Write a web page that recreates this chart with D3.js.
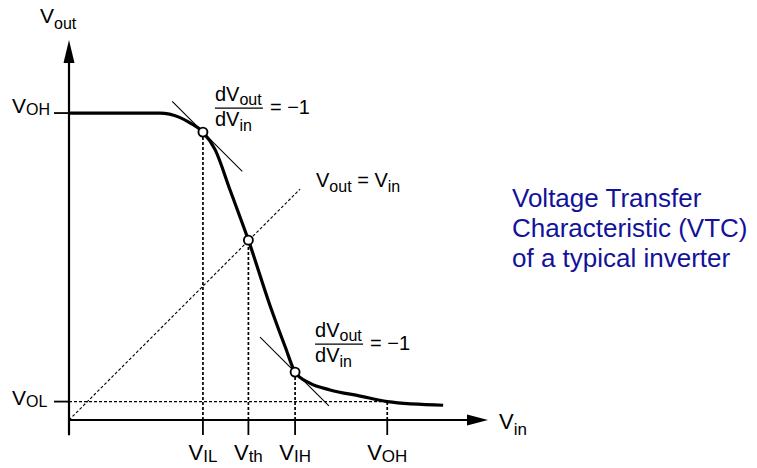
<!DOCTYPE html>
<html>
<head>
<meta charset="utf-8">
<script src="https://cdn.jsdelivr.net/npm/d3@7"></script>
<style>
  html, body { margin: 0; padding: 0; background: #fff; }
  svg { display: block; }
  text { font-family: "Liberation Sans", Arial, Helvetica, sans-serif; fill: #000; }
</style>
</head>
<body>
<svg id="chart" width="757" height="468"></svg>
<script>
// Inverter transfer curve: Vout (V) as a function of Vin (V)
const curveVin  = [0, 1.48, 1.80, 1.97, 2.18, 2.38, 2.62, 2.92, 3.27, 3.52, 3.68, 3.92, 4.25, 4.74, 5.18, 6.09];
const curveVout = [5.00, 5.00, 4.93, 4.84, 4.69, 4.40, 3.75, 2.93, 1.87, 1.19, 0.78, 0.60, 0.49, 0.39, 0.30, 0.24];

// Critical points marked on the curve: [Vin, Vout]
const pointNames = ["IL", "th", "IH"];
const pointVin   = [2.18, 2.92, 3.68];
const pointVout  = [4.69, 2.93, 0.78];

// Input-axis marks
const xTickLabels = ["IL", "th", "IH", "OH"];
const xTickValues = [2.18, 2.92, 3.68, 5.18];

// Output-axis marks
const yTickLabels = ["OH", "OL"];
const yTickValues = [5.00, 0.30];

// Unity-gain tangents (slope −1) at V_IL and V_IH, with their extent along Vin
const tangentAt   = [0, 2];          // indices into the critical points
const tangentFrom = [-0.50, -0.57];
const tangentTo   = [0.64, 0.55];

// Reference line Vout = Vin, drawn up to this input voltage
const unityLineEnd = 3.76;

const captionLines = ["Voltage Transfer", "Characteristic (VTC)", "of a typical inverter"];

const svg = d3.select("#chart");

const x = d3.scaleLinear().domain([0, 6.82]).range([69, 488]);
const y = d3.scaleLinear().domain([0, 6.19]).range([420, 40]);

const ink = "#000";

// ---- axes ----
const axes = svg.append("g");
axes.append("line")
  .attr("x1", x(0)).attr("y1", y(-0.25))
  .attr("x2", x(0)).attr("y2", y(5.9))
  .attr("stroke", ink).attr("stroke-width", 2.2);
axes.append("path")
  .attr("d", `M${x(0)},${y(6.19)} L${x(0) - 5.5},${y(6.19) + 23} L${x(0) + 5.5},${y(6.19) + 23} Z`)
  .attr("fill", ink);
axes.append("line")
  .attr("x1", x(0)).attr("y1", y(0))
  .attr("x2", x(6.5)).attr("y2", y(0))
  .attr("stroke", ink).attr("stroke-width", 2.2);
axes.append("path")
  .attr("d", `M${x(6.82)},${y(0)} L${x(6.82) - 21},${y(0) - 5.5} L${x(6.82) - 21},${y(0) + 5.5} Z`)
  .attr("fill", ink);

// subscripted label helper: V with a subscript
function vLabel(g, px, py, sub, anchor, size, subSize, subDy) {
  const t = g.append("text")
    .attr("x", px).attr("y", py)
    .attr("text-anchor", anchor)
    .attr("font-size", size);
  t.append("tspan").text("V");
  t.append("tspan").attr("dy", subDy).attr("font-size", subSize).text(sub);
  return t;
}

// axis titles
vLabel(svg, 40, 23, "out", "start", 21, 16, 6);
vLabel(svg, 499, 429, "in", "start", 22, 17, 6);

// ---- reference lines ----
const guides = svg.append("g").attr("fill", "none").attr("stroke", ink);

// Vout = Vin
guides.append("line")
  .attr("x1", x(0)).attr("y1", y(0))
  .attr("x2", x(unityLineEnd)).attr("y2", y(unityLineEnd))
  .attr("stroke-width", 1.1).attr("stroke-dasharray", "3,2");

// V_OL level across to where the curve reaches it
guides.append("line")
  .attr("x1", x(0)).attr("y1", y(yTickValues[1]))
  .attr("x2", x(xTickValues[3])).attr("y2", y(yTickValues[1]))
  .attr("stroke-width", 1.4).attr("stroke-dasharray", "3,2");

// drop lines from the critical points to the input axis
const dropTops = pointVout.concat([yTickValues[1]]);
xTickValues.forEach((v, i) => {
  guides.append("line")
    .attr("x1", x(v)).attr("y1", y(0))
    .attr("x2", x(v)).attr("y2", y(dropTops[i]))
    .attr("stroke-width", 1.7).attr("stroke-dasharray", "3,2");
});

// ---- ticks and tick labels ----
xTickValues.forEach((v, i) => {
  axes.append("line")
    .attr("x1", x(v)).attr("y1", y(0))
    .attr("x2", x(v)).attr("y2", y(0) + 15)
    .attr("stroke", ink).attr("stroke-width", 1.8);
  vLabel(svg, x(v), y(0) + 40, xTickLabels[i], "middle", 22, 17, 2);
});
yTickValues.forEach((v, i) => {
  axes.append("line")
    .attr("x1", x(0) - 15).attr("y1", y(v))
    .attr("x2", x(0)).attr("y2", y(v))
    .attr("stroke", ink).attr("stroke-width", 1.8);
  vLabel(svg, 12, y(v) + (i === 0 ? 0 : 3), yTickLabels[i], "start", 21, 16, 2);
});

// ---- tangents ----
tangentAt.forEach((pi, k) => {
  const vx = pointVin[pi], vy = pointVout[pi];
  svg.append("line")
    .attr("x1", x(vx + tangentFrom[k])).attr("y1", y(vy - tangentFrom[k]))
    .attr("x2", x(vx + tangentTo[k])).attr("y2", y(vy - tangentTo[k]))
    .attr("stroke", ink).attr("stroke-width", 1.1);
});

// ---- the transfer curve ----
const line = d3.line()
  .x(d => x(d[0])).y(d => y(d[1]))
  .curve(d3.curveMonotoneX);
svg.append("path")
  .datum(d3.zip(curveVin, curveVout))
  .attr("d", line)
  .attr("fill", "none")
  .attr("stroke", ink)
  .attr("stroke-width", 3.2)
  .attr("stroke-linejoin", "round");

// ---- critical points ----
svg.append("g").selectAll("circle")
  .data(d3.zip(pointVin, pointVout))
  .join("circle")
  .attr("cx", d => x(d[0])).attr("cy", d => y(d[1]))
  .attr("r", 4.5)
  .attr("fill", "#fff")
  .attr("stroke", ink)
  .attr("stroke-width", 1.9);

// ---- slope annotations dVout/dVin = −1 ----
function slopeNote(px, barY) {
  const g = svg.append("g");
  const num = g.append("text").attr("x", px).attr("y", barY - 7).attr("font-size", 20);
  num.append("tspan").text("dV");
  num.append("tspan").attr("dy", 4).attr("font-size", 16).text("out");
  const den = g.append("text").attr("x", px).attr("y", barY + 18).attr("font-size", 20);
  den.append("tspan").text("dV");
  den.append("tspan").attr("dy", 5).attr("font-size", 16).text("in");
  g.append("line")
    .attr("x1", px).attr("y1", barY).attr("x2", px + 48).attr("y2", barY)
    .attr("stroke", ink).attr("stroke-width", 1.2);
  g.append("text").attr("x", px + 55).attr("y", barY + 6).attr("font-size", 20).text("= \u22121");
}
slopeNote(x(pointVin[0]) + 12, y(pointVout[0]) - 24);
slopeNote(x(pointVin[2]) + 20, y(pointVout[2]) - 28);

// Vout = Vin tag
const eq = svg.append("text").attr("x", 316).attr("y", 187).attr("font-size", 20);
eq.append("tspan").text("V");
eq.append("tspan").attr("dy", 5).attr("font-size", 16).text("out");
eq.append("tspan").attr("dy", -5).text(" = V");
eq.append("tspan").attr("dy", 5).attr("font-size", 16).text("in");

// ---- caption ----
svg.append("g").selectAll("text")
  .data(captionLines)
  .join("text")
  .attr("x", 512)
  .attr("y", (d, i) => 207 + i * 30)
  .attr("font-size", 26)
  .style("fill", "#12129a")
  .text(d => d);
</script>
</body>
</html>
